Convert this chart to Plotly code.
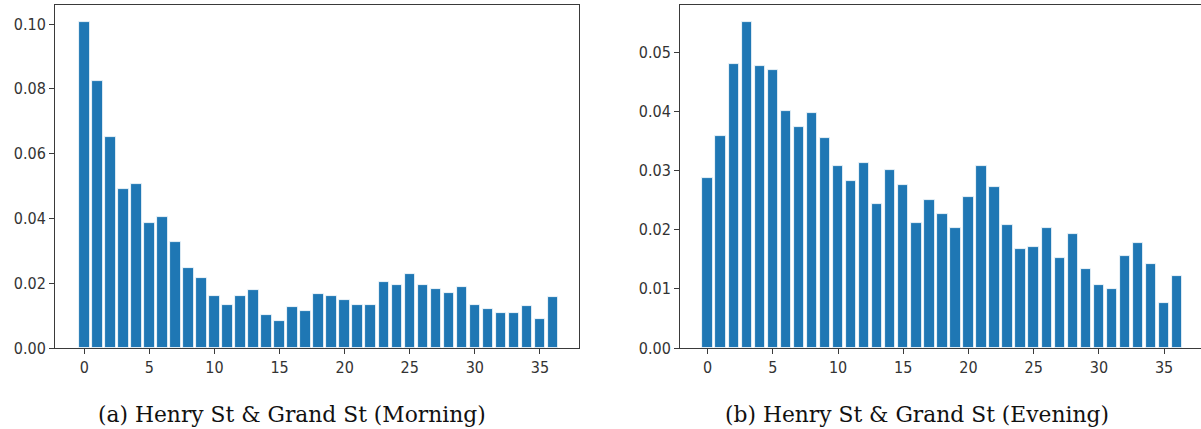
import plotly.graph_objects as go

# Station index along the route (x positions of the bars)
stations = list(range(37))

# Share of trips per station, Henry St & Grand St, morning window
morning = [
    0.1007, 0.0823, 0.0652, 0.0491, 0.0507, 0.0385, 0.0404, 0.0327, 0.0248, 0.0215,
    0.0162, 0.0134, 0.0162, 0.0180, 0.0103, 0.0083, 0.0128, 0.0113, 0.0167, 0.0162,
    0.0147, 0.0134, 0.0134, 0.0205, 0.0196, 0.0230, 0.0196, 0.0181, 0.0171, 0.0187,
    0.0134, 0.0119, 0.0108, 0.0108, 0.0129, 0.0090, 0.0158,
]

# Share of trips per station, Henry St & Grand St, evening window
evening = [
    0.0288, 0.0358, 0.0480, 0.0552, 0.0477, 0.0470, 0.0400, 0.0374, 0.0397, 0.0355,
    0.0307, 0.0283, 0.0312, 0.0243, 0.0301, 0.0275, 0.0212, 0.0251, 0.0227, 0.0203,
    0.0256, 0.0307, 0.0273, 0.0208, 0.0167, 0.0171, 0.0203, 0.0153, 0.0192, 0.0134,
    0.0107, 0.0099, 0.0155, 0.0177, 0.0142, 0.0076, 0.0121,
]

x_ticks = [0, 5, 10, 15, 20, 25, 30, 35]
y_ticks_morning = [0.00, 0.02, 0.04, 0.06, 0.08, 0.10]
y_ticks_evening = [0.00, 0.01, 0.02, 0.03, 0.04, 0.05]
captions = [
    "(a) Henry St & Grand St (Morning)",
    "(b) Henry St & Grand St (Evening)",
]

W, H = 1201, 429
BAR = "#1f77b4"
SPINE = "#3a3a3a"
TICK_FONT = dict(family="DejaVu Sans Condensed, DejaVu Sans", size=16, color="#333333")

fig = go.Figure()
fig.add_trace(go.Bar(x=stations, y=morning, width=0.8, marker_color=BAR,
                     marker_line=dict(color="white", width=0.8),
                     xaxis="x", yaxis="y", showlegend=False))
fig.add_trace(go.Bar(x=stations, y=evening, width=0.8, marker_color=BAR,
                     marker_line=dict(color="white", width=0.8),
                     xaxis="x2", yaxis="y2", showlegend=False))

common_x = dict(tickmode="array", tickvals=x_ticks, ticks="outside", ticklen=5,
                tickwidth=1, tickcolor=SPINE, showline=True, linecolor=SPINE,
                linewidth=1, mirror=True, showgrid=False, zeroline=False,
                tickfont=TICK_FONT)
common_y = dict(ticks="outside", ticklen=5, tickwidth=1, tickcolor=SPINE,
                showline=True, linecolor=SPINE, linewidth=1, showgrid=False,
                zeroline=False, tickformat=".2f", tickfont=TICK_FONT)

fig.update_layout(
    width=W, height=H,
    margin=dict(l=0, r=0, t=5, b=81),
    paper_bgcolor="white", plot_bgcolor="white",
    bargap=0,
    xaxis=dict(domain=[55 / W, 579 / W], range=[-2.25, 38.0], anchor="y", **common_x),
    yaxis=dict(domain=[0, 1], range=[0, 0.1059], anchor="x",
               tickvals=y_ticks_morning, mirror=True, **common_y),
    xaxis2=dict(domain=[680 / W, 1.0], range=[-2.12, 37.83], anchor="y2", **common_x),
    yaxis2=dict(domain=[0, 1], range=[0, 0.0580], anchor="x2",
                tickvals=y_ticks_evening, mirror=False, **common_y),
)

for cx, text in zip([292 / W, 916.7 / W], captions):
    fig.add_annotation(x=cx, y=-0.195, xref="paper", yref="paper", text=text,
                       showarrow=False, xanchor="center", yanchor="middle",
                       font=dict(family="DejaVu Serif", size=21.8, color="#111111"))

fig.write_html("out.html")
